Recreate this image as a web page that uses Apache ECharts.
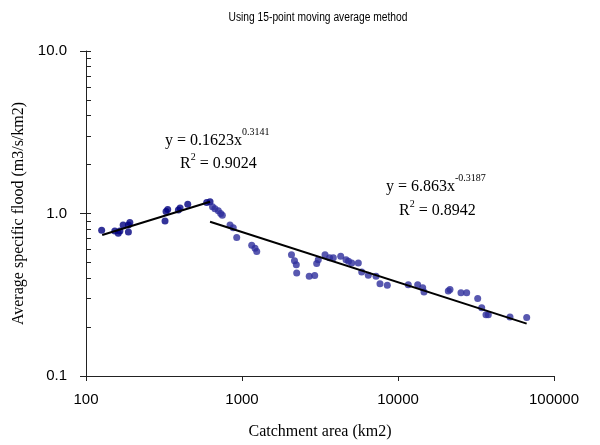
<!DOCTYPE html>
<html>
<head>
<meta charset="utf-8">
<script src="https://cdn.jsdelivr.net/npm/echarts@6/dist/echarts.min.js"></script>
<style>
  html, body { margin: 0; padding: 0; background: #fff; }
  #chart { width: 600px; height: 445px; }
</style>
</head>
<body>
<div id="chart"></div>
<script>
// upstream points (rising part)
const areaUp = [126, 153, 161, 165, 173, 187, 187, 191, 321, 326, 334, 391, 401, 449, 594, 624];
const floodUp = [0.79, 0.78, 0.755, 0.78, 0.85, 0.77, 0.85, 0.88, 0.90, 1.03, 1.06, 1.05, 1.08, 1.14, 1.17, 1.18];

// downstream points (falling part)
const areaDown = [647, 671, 705, 730, 748, 838, 879, 925, 1154, 1212, 1243, 2076, 2170, 2229, 2242,
  2697, 2924, 3011, 3083, 3405, 3643, 3848, 4293, 4642, 4816, 5050, 5567, 5853, 6451, 7228, 7666,
  8540, 11640, 13370, 14400, 14680, 21010, 21540, 25340, 27560, 32430, 34400, 36650, 37920, 52230, 66840];
const floodDown = [1.10, 1.07, 1.04, 1.00, 0.976, 0.85, 0.816, 0.711, 0.638, 0.612, 0.584, 0.558, 0.512, 0.484, 0.431,
  0.411, 0.415, 0.492, 0.519, 0.558, 0.535, 0.535, 0.545, 0.519, 0.508, 0.496, 0.496, 0.437, 0.417, 0.411, 0.369,
  0.362, 0.365, 0.365, 0.349, 0.329, 0.333, 0.341, 0.325, 0.325, 0.300, 0.263, 0.238, 0.238, 0.231, 0.229];

// power-law trendlines (end points)
const fitUpX = [127, 624];
const fitUpY = [0.737, 1.18];
const fitDownX = [624, 66800];
const fitDownY = [0.89, 0.21];

const minorTicks = [0.2, 0.3, 0.4, 0.5, 0.6, 0.7, 0.8, 0.9, 1, 2, 3, 4, 5, 6, 7, 8, 9, 10];

const zip = (xs, ys) => xs.map((x, i) => [x, ys[i]]);

const serif = 'Liberation Serif';
const sans = 'Liberation Sans';

const chart = echarts.init(document.getElementById('chart'));

const option = {
  animation: false,
  backgroundColor: '#fff',
  grid: { left: 86, right: 46, top: 51, bottom: 64.5 },
  xAxis: {
    type: 'log',
    logBase: 10,
    min: 100,
    max: 100000,
    name: 'Catchment area (km2)',
    nameLocation: 'middle',
    nameGap: 48,
    nameTextStyle: { fontFamily: serif, fontSize: 16, color: '#000' },
    axisLine: { lineStyle: { color: '#222', width: 1 } },
    axisTick: { show: true, inside: false, length: 5, lineStyle: { color: '#222' } },
    axisLabel: {
      margin: 16,
      fontFamily: sans,
      fontSize: 15,
      color: '#000',
      formatter: v => String(Math.round(v))
    },
    splitLine: { show: false }
  },
  yAxis: [
    {
      type: 'log',
      logBase: 10,
      min: 0.1,
      max: 10,
      name: 'Average specific flood (m3/s/km2)',
      nameLocation: 'middle',
      nameGap: 59,
      nameTextStyle: { fontFamily: serif, fontSize: 16, color: '#000' },
      axisLine: { show: true, lineStyle: { color: '#222', width: 1 } },
      axisTick: { show: true, inside: false, length: 6, lineStyle: { color: '#222' } },
      axisLabel: {
        margin: 19,
        fontFamily: sans,
        fontSize: 15,
        color: '#000',
        formatter: v => v.toFixed(1)
      },
      splitLine: { show: false }
    },
    {
      type: 'log',
      logBase: 10,
      min: 0.1,
      max: 10,
      position: 'left',
      axisLine: { show: false },
      axisLabel: { show: false },
      axisTick: {
        show: true,
        inside: true,
        length: 5,
        customValues: minorTicks,
        lineStyle: { color: '#222' }
      },
      splitLine: { show: false }
    }
  ],
  graphic: [
    {
      // title, squeezed horizontally like the narrow original font
      type: 'text',
      x: 318,
      y: 18,
      scaleX: 0.82,
      style: {
        text: 'Using 15-point moving average method',
        font: '12.5px "Liberation Sans"',
        fill: '#000',
        align: 'center',
        verticalAlign: 'middle'
      }
    },
    {
      type: 'text',
      x: 165,
      y: 141,
      style: {
        text: '{a|y = 0.1623x}{s|0.3141}',
        verticalAlign: 'middle',
        align: 'left',
        rich: {
          a: { fontFamily: serif, fontSize: 16, fill: '#000' },
          s: { fontFamily: serif, fontSize: 10, fill: '#000', padding: [0, 0, 18, 0] }
        }
      }
    },
    {
      type: 'text',
      x: 180,
      y: 164,
      style: {
        text: '{a|R}{s|2}{a| = 0.9024}',
        verticalAlign: 'middle',
        align: 'left',
        rich: {
          a: { fontFamily: serif, fontSize: 16, fill: '#000' },
          s: { fontFamily: serif, fontSize: 10, fill: '#000', padding: [0, 0, 14, 0] }
        }
      }
    },
    {
      type: 'text',
      x: 386,
      y: 187,
      style: {
        text: '{a|y = 6.863x}{s|-0.3187}',
        verticalAlign: 'middle',
        align: 'left',
        rich: {
          a: { fontFamily: serif, fontSize: 16, fill: '#000' },
          s: { fontFamily: serif, fontSize: 10, fill: '#000', padding: [0, 0, 18, 0] }
        }
      }
    },
    {
      type: 'text',
      x: 399,
      y: 211,
      style: {
        text: '{a|R}{s|2}{a| = 0.8942}',
        verticalAlign: 'middle',
        align: 'left',
        rich: {
          a: { fontFamily: serif, fontSize: 16, fill: '#000' },
          s: { fontFamily: serif, fontSize: 10, fill: '#000', padding: [0, 0, 14, 0] }
        }
      }
    }
  ],
  series: [
    {
      name: 'upstream',
      type: 'scatter',
      symbol: 'circle',
      symbolSize: 7,
      itemStyle: { color: '#000080' },
      data: zip(areaUp, floodUp),
      z: 3
    },
    {
      name: 'downstream',
      type: 'scatter',
      symbol: 'circle',
      symbolSize: 7,
      itemStyle: { color: '#2e2e9c' },
      data: zip(areaDown, floodDown),
      z: 3
    },
    {
      name: 'fit up',
      type: 'line',
      showSymbol: false,
      lineStyle: { color: '#000', width: 2 },
      data: zip(fitUpX, fitUpY),
      z: 4
    },
    {
      name: 'fit down',
      type: 'line',
      showSymbol: false,
      lineStyle: { color: '#000', width: 2 },
      data: zip(fitDownX, fitDownY),
      z: 4
    }
  ]
};

chart.setOption(option);
</script>
</body>
</html>
